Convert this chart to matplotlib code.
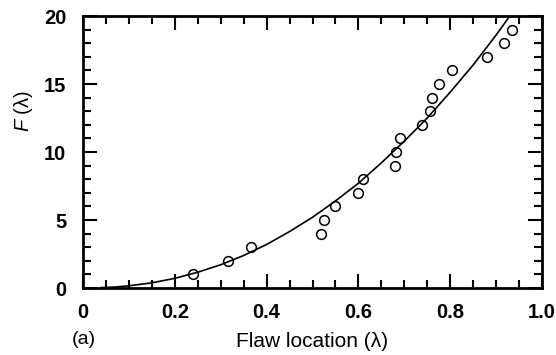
import matplotlib
matplotlib.use("Agg")
import matplotlib.pyplot as plt
from matplotlib.ticker import MultipleLocator

matplotlib.rcParams.update({
    "font.family": "Liberation Sans",
    "font.size": 14,
    "mathtext.fontset": "custom",
    "mathtext.it": "Liberation Sans:italic",
    "mathtext.rm": "Liberation Sans",
})

# measured points
lam = [0.24, 0.315, 0.365, 0.518, 0.525, 0.55, 0.60, 0.61, 0.68, 0.683,
       0.69, 0.738, 0.755, 0.76, 0.775, 0.805, 0.88, 0.918, 0.935]
F_meas = [1, 2, 3, 4, 5, 6, 7, 8, 9, 10,
          11, 12, 13, 14, 15, 16, 17, 18, 19]

# fitted curve
curve_x = [0.04, 0.07, 0.10, 0.15, 0.20, 0.25, 0.30, 0.35, 0.40, 0.45, 0.50,
           0.55, 0.60, 0.65, 0.70, 0.75, 0.80, 0.85, 0.90, 0.93]
curve_y = [0.03, 0.07, 0.16, 0.38, 0.71, 1.16, 1.71, 2.39, 3.2, 4.15, 5.2,
           6.4, 7.7, 9.2, 10.8, 12.5, 14.4, 16.4, 18.6, 20.0]

xtick_vals = [0, 0.2, 0.4, 0.6, 0.8, 1.0]
xtick_text = ["0", "0.2", "0.4", "0.6", "0.8", "1.0"]

fig = plt.figure(figsize=(5.56, 3.55), dpi=100)
ax = fig.add_axes([83 / 556, 1 - 288 / 355, 459 / 556, 272 / 355])

ax.plot(curve_x, curve_y, color="black", linewidth=1.2)
ax.plot(lam, F_meas, linestyle="None", marker="o", markersize=7,
        markerfacecolor="none", markeredgecolor="black", markeredgewidth=1.1)

ax.set_xlim(0, 1.0)
ax.set_ylim(0, 20)
ax.xaxis.set_minor_locator(MultipleLocator(0.05))
ax.yaxis.set_major_locator(MultipleLocator(5))
ax.yaxis.set_minor_locator(MultipleLocator(1))
ax.set_xticks(xtick_vals)
ax.set_xticklabels(xtick_text)

ax.tick_params(which="both", direction="in", top=True, right=True, width=1.5,
               labelsize=14.5)
ax.tick_params(which="major", length=10)
ax.tick_params(which="minor", length=6)
ax.tick_params(axis="x", which="major", pad=11)
ax.tick_params(axis="y", which="major", pad=12)
for lbl in ax.get_xticklabels() + ax.get_yticklabels():
    lbl.set_fontweight("bold")
for s in ax.spines.values():
    s.set_linewidth(2)

ax.set_xlabel("Flaw location (λ)", fontsize=15)
ax.xaxis.set_label_coords(0.5, -0.16)
ax.set_ylabel(r"$F$ (λ)", fontsize=14.5)
ax.yaxis.set_label_coords(-0.104, 0.65)
fig.text(84 / 556, 1 - 340 / 355, "(a)", fontsize=14, ha="center", va="center")

fig.savefig("out.png", dpi=100)
